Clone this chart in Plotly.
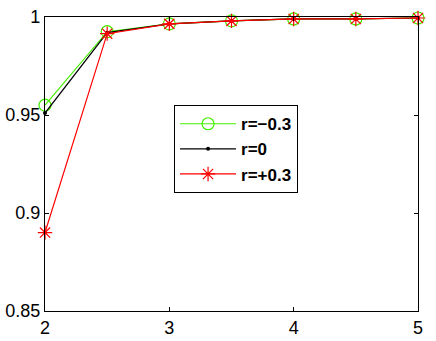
import plotly.graph_objects as go

# x 轴取值
x_vals = [2, 2.5, 3, 3.5, 4, 4.5, 5]

# 三条曲线的数值
r_neg = [0.955, 0.9925, 0.9965, 0.998, 0.999, 0.999, 0.9995]
r_zero = [0.951, 0.992, 0.9965, 0.998, 0.999, 0.999, 0.9995]
r_pos = [0.890, 0.9915, 0.9965, 0.998, 0.999, 0.999, 0.9995]

series_names = ["<b>r=\u22120.3</b>", "<b>r=0</b>", "<b>r=+0.3</b>"]

fig = go.Figure()

fig.add_trace(go.Scatter(
    x=x_vals, y=r_neg, name=series_names[0], mode="lines+markers", cliponaxis=False,
    line=dict(color="#44ee00", width=1.2),
    marker=dict(symbol="circle-open", size=12, color="#44ee00", line=dict(width=1.2)),
))
fig.add_trace(go.Scatter(
    x=x_vals, y=r_zero, name=series_names[1], mode="lines+markers", cliponaxis=False,
    line=dict(color="black", width=1.2),
    marker=dict(symbol="circle", size=4, color="black"),
))
fig.add_trace(go.Scatter(
    x=x_vals, y=r_pos, name=series_names[2], mode="lines+markers", cliponaxis=False,
    line=dict(color="red", width=1.2),
    marker=dict(symbol="asterisk-open", size=12, color="red", line=dict(width=1.2, color="red")),
))

axis_style = dict(
    showline=True, linecolor="black", linewidth=1.2, mirror="ticks",
    ticks="inside", ticklen=4, tickcolor="black", showgrid=False, zeroline=False,
    automargin=False,
    tickfont=dict(family="Liberation Sans, Arial", size=18, color="black"),
)

fig.update_xaxes(range=[2, 5], tickvals=[2, 3, 4, 5], **axis_style)
fig.update_yaxes(range=[0.85, 1.0], tickvals=[0.85, 0.9, 0.95, 1.0],
                 ticktext=["0.85", "0.9", "0.95", "1"], **axis_style)

fig.update_layout(
    width=436, height=341,
    margin=dict(l=45, r=18, t=17, b=30),
    plot_bgcolor="white", paper_bgcolor="white",
    legend=dict(
        x=0.346, y=0.70, xanchor="left", yanchor="top",
        bordercolor="black", borderwidth=1, bgcolor="white",
        font=dict(family="Liberation Sans, Arial", size=17, color="black"),
        itemwidth=56, tracegroupgap=0,
    ),
)

# 去掉页面 body 默认的 8px 边距，并隐藏工具栏
fig.write_html("out.html", config={"displayModeBar": False},
               post_script="document.body.style.margin='0';")
